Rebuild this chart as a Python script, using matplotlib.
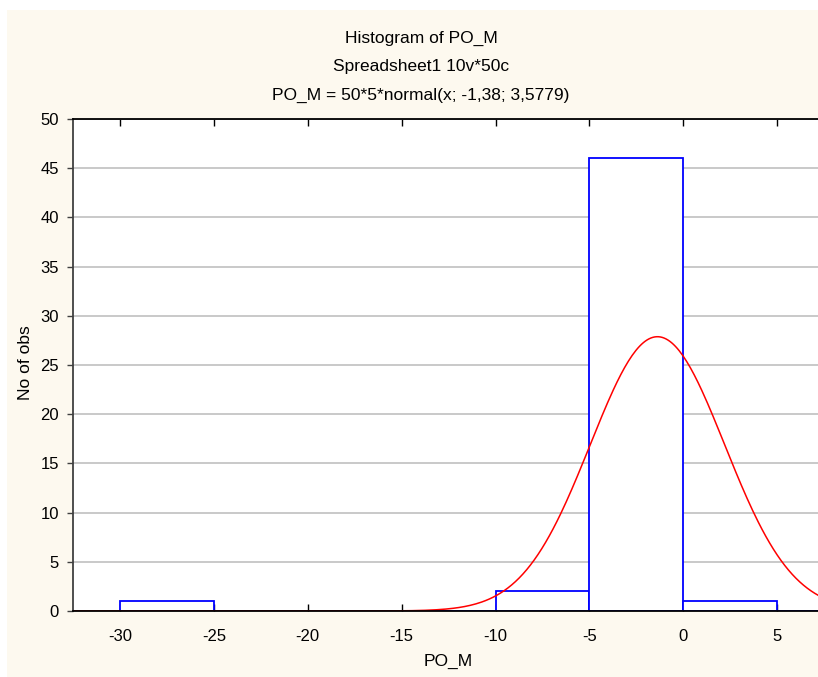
import matplotlib.pyplot as plt
from matplotlib.patches import Rectangle
import numpy as np

plt.rcParams['font.family'] = ['Liberation Sans', 'DejaVu Sans']
plt.rcParams['axes.unicode_minus'] = False

# histogram bins (left edges, width 5) and counts
bin_left = [-30, -25, -20, -15, -10, -5, 0, 5]
counts = [1, 0, 0, 0, 2, 46, 1, 0]
bin_width = 5

# fitted normal curve parameters from title
n_obs = 50
mu = -1.38
sigma = 3.5779

xticks = [-30, -25, -20, -15, -10, -5, 0, 5]
yticks = list(range(0, 51, 5))

fig = plt.figure(figsize=(8.18, 6.77), dpi=100, facecolor='white')
fig.patches.append(Rectangle((7 / 818, 0), 1, 1 - 10 / 677, transform=fig.transFigure,
                             facecolor='#FDF9EF', edgecolor='none', zorder=-5))

ax = fig.add_axes([73 / 818, 1 - 611 / 677, 1.0, (611 - 119) / 677])
ax.set_facecolor('white')

ax.bar(bin_left, counts, width=bin_width, align='edge', facecolor='white',
       edgecolor='#0000FF', linewidth=1.3, zorder=2)

xs = np.linspace(-32.5, 7.5, 400)
ys = n_obs * bin_width * np.exp(-0.5 * ((xs - mu) / sigma) ** 2) / (sigma * np.sqrt(2 * np.pi))
ax.plot(xs, ys, color='#FF0000', linewidth=1.1, zorder=2.2)

ax.set_xlim(-32.5, -32.5 + 818 / 18.78)
ax.set_ylim(0, 50)
ax.set_xticks(xticks)
ax.set_yticks(yticks)
ax.grid(axis='y', color='#C0C0C0', linewidth=1.2, zorder=1)
ax.set_axisbelow(True)

ax.tick_params(axis='x', direction='in', top=True, length=5, width=1, colors='black',
               labelsize=12, pad=13)
ax.tick_params(axis='y', direction='out', length=4, width=1, colors='#404040',
               labelsize=12, labelcolor='black', pad=6)
for side in ['top', 'bottom']:
    ax.spines[side].set_color('black')
    ax.spines[side].set_linewidth(1.3)
ax.spines['left'].set_color('#404040')
ax.spines['left'].set_linewidth(1.3)
ax.spines['right'].set_visible(False)

fig.text(421 / 818, 1 - 38 / 677, 'Histogram of PO_M', ha='center', va='center', fontsize=12.5)
fig.text(421 / 818, 1 - 66 / 677, 'Spreadsheet1 10v*50c', ha='center', va='center', fontsize=12.5)
fig.text(421 / 818, 1 - 95 / 677, 'PO_M = 50*5*normal(x; -1,38; 3,5779)', ha='center', va='center', fontsize=12.5)
fig.text(448 / 818, 1 - 661 / 677, 'PO_M', ha='center', va='center', fontsize=12.5)
fig.text(26 / 818, 1 - 363 / 677, 'No of obs', ha='center', va='center', fontsize=12.5, rotation=90)

fig.savefig('out.png', dpi=100, facecolor=fig.get_facecolor())
